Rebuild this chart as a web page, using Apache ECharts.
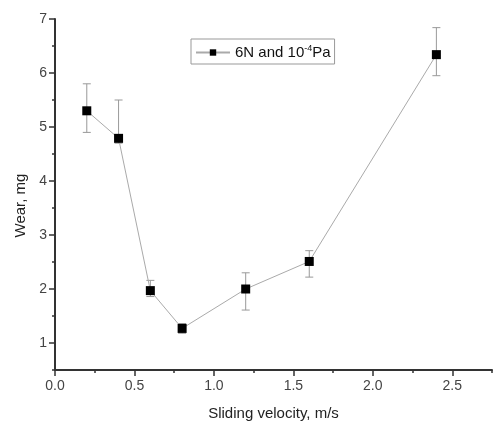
<!DOCTYPE html>
<html>
<head>
<meta charset="utf-8">
<script src="https://cdn.jsdelivr.net/npm/echarts@6/dist/echarts.min.js"></script>
<style>html,body{margin:0;padding:0;background:#fff}#c{width:493px;height:426px}</style>
</head>
<body>
<div id="c"></div>
<script>
var velocity = [0.2, 0.4, 0.6, 0.8, 1.2, 1.6, 2.4];
var wear = [5.3, 4.79, 1.97, 1.27, 2.0, 2.51, 6.34];
var errLow = [4.9, 4.7, 1.86, 1.18, 1.61, 2.22, 5.95];
var errHigh = [5.8, 5.5, 2.16, 1.36, 2.3, 2.71, 6.84];
var xMajorTicks = [0, 0.5, 1.0, 1.5, 2.0, 2.5];
var xMinorTicks = [0.25, 0.75, 1.25, 1.75, 2.25, 2.75];
var yMajorTicks = [1, 2, 3, 4, 5, 6, 7];
var yMinorTicks = [0.5, 1.5, 2.5, 3.5, 4.5, 5.5, 6.5];
var seriesName = '6N and 10-4Pa';

var chart = echarts.init(document.getElementById('c'));
var font = 'Liberation Sans, Arial, sans-serif';
var axisCol = '#333';
var labelCol = '#444';

var lineData = velocity.map(function (v, i) { return [v, wear[i]]; });
var errData = velocity.map(function (v, i) { return [v, errLow[i], errHigh[i]]; });

chart.setOption({
  animation: false,
  backgroundColor: '#fff',
  grid: { left: 55, right: 1, top: 19, bottom: 54 },
  legend: {
    left: 191, top: 39,
    data: [seriesName],
    itemWidth: 34, itemHeight: 8, itemGap: 4,
    padding: [5, 4, 4, 4],
    borderColor: '#999', borderWidth: 1,
    formatter: function () { return '6N and 10{sup|-4}Pa'; },
    textStyle: {
      fontFamily: font, fontSize: 15, color: '#111',
      rich: { sup: { fontFamily: font, fontSize: 9, color: '#111', verticalAlign: 'top', padding: [0, 0, 8, 0] } }
    }
  },
  xAxis: [{
    type: 'value', min: 0, max: 2.75,
    name: 'Sliding velocity, m/s', nameLocation: 'middle', nameGap: 36,
    nameTextStyle: { fontFamily: font, fontSize: 15, color: '#222' },
    axisLine: { show: true, lineStyle: { color: axisCol, width: 2 } },
    axisTick: { show: true, customValues: xMajorTicks, length: 6, lineStyle: { color: axisCol, width: 1.5 } },
    axisLabel: { customValues: xMajorTicks, fontFamily: font, fontSize: 14, color: labelCol, margin: 9,
      formatter: function (v) { return v.toFixed(1); } },
    splitLine: { show: false }
  }, {
    type: 'value', min: 0, max: 2.75, position: 'bottom',
    axisLine: { show: false },
    axisTick: { show: true, customValues: xMinorTicks, length: 3, lineStyle: { color: axisCol, width: 1.5 } },
    axisLabel: { show: false },
    splitLine: { show: false }
  }],
  yAxis: [{
    type: 'value', min: 0.5, max: 7,
    name: 'Wear, mg', nameLocation: 'middle', nameGap: 26,
    nameTextStyle: { fontFamily: font, fontSize: 15, color: '#222', padding: [0, 0, 0, -22] },
    axisLine: { show: true, lineStyle: { color: axisCol, width: 2 } },
    axisTick: { show: true, customValues: yMajorTicks, length: 6, lineStyle: { color: axisCol, width: 1.5 } },
    axisLabel: { customValues: yMajorTicks, fontFamily: font, fontSize: 14, color: labelCol, margin: 8 },
    splitLine: { show: false }
  }, {
    type: 'value', min: 0.5, max: 7, position: 'left',
    axisLine: { show: false },
    axisTick: { show: true, customValues: yMinorTicks, length: 3, lineStyle: { color: axisCol, width: 1.5 } },
    axisLabel: { show: false },
    splitLine: { show: false }
  }],
  series: [{
    name: seriesName,
    type: 'line',
    data: lineData,
    symbol: 'rect', symbolSize: 9,
    itemStyle: { color: '#000' },
    lineStyle: { color: '#aaa', width: 1 },
    z: 3
  }, {
    type: 'custom',
    data: errData,
    z: 2,
    renderItem: function (params, api) {
      var x = api.value(0);
      var lo = api.coord([x, api.value(1)]);
      var hi = api.coord([x, api.value(2)]);
      var w = 4;
      var st = { stroke: '#999', lineWidth: 1 };
      return {
        type: 'group',
        children: [
          { type: 'line', shape: { x1: lo[0], y1: lo[1], x2: hi[0], y2: hi[1] }, style: st },
          { type: 'line', shape: { x1: lo[0] - w, y1: lo[1], x2: lo[0] + w, y2: lo[1] }, style: st },
          { type: 'line', shape: { x1: hi[0] - w, y1: hi[1], x2: hi[0] + w, y2: hi[1] }, style: st }
        ]
      };
    }
  }]
});
</script>
</body>
</html>
